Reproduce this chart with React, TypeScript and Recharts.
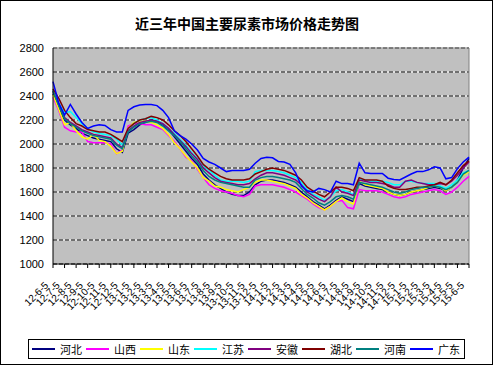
import React from "react";
import { LineChart, Line, XAxis, YAxis, CartesianGrid, ReferenceLine } from "recharts";

// tick labels, one per month (axis spans 12-6-5 .. 15-6-5)
const monthLabels = [
  "12-6-5", "12-7-5", "12-8-5", "12-9-5", "12-10-5", "12-11-5", "12-12-5",
  "13-1-5", "13-2-5", "13-3-5", "13-4-5", "13-5-5", "13-6-5", "13-7-5", "13-8-5", "13-9-5", "13-10-5", "13-11-5", "13-12-5",
  "14-1-5", "14-2-5", "14-3-5", "14-4-5", "14-5-5", "14-6-5", "14-7-5", "14-8-5", "14-9-5", "14-10-5", "14-11-5", "14-12-5",
  "15-1-5", "15-2-5", "15-3-5", "15-4-5", "15-5-5", "15-6-5",
];

const yTicks = [1000, 1200, 1400, 1600, 1800, 2000, 2200, 2400, 2600, 2800];

// prices (yuan/t), sampled every half month
const hebei = [2420, 2300, 2200, 2160, 2130, 2090, 2070, 2050, 2040, 2030, 2020, 1960, 1930, 2090, 2120, 2160, 2180, 2200, 2190, 2160, 2120, 2060, 2000, 1940, 1880, 1830, 1750, 1700, 1660, 1630, 1600, 1580, 1570, 1570, 1600, 1660, 1690, 1700, 1700, 1690, 1680, 1660, 1640, 1600, 1560, 1520, 1490, 1460, 1490, 1530, 1560, 1540, 1520, 1670, 1650, 1640, 1630, 1620, 1600, 1580, 1570, 1580, 1600, 1610, 1620, 1630, 1640, 1630, 1610, 1640, 1700, 1800, 1880];
const shanxi = [2390, 2280, 2140, 2110, 2100, 2100, 2020, 2010, 2010, 2010, 2000, 1920, 1950, 2150, 2170, 2170, 2160, 2160, 2140, 2120, 2070, 2020, 1960, 1890, 1860, 1790, 1720, 1660, 1630, 1610, 1600, 1590, 1570, 1560, 1580, 1650, 1660, 1660, 1660, 1650, 1640, 1620, 1600, 1570, 1540, 1500, 1470, 1450, 1480, 1520, 1530, 1470, 1460, 1620, 1610, 1610, 1610, 1600, 1580, 1560, 1550, 1560, 1580, 1590, 1600, 1610, 1620, 1610, 1580, 1600, 1640, 1690, 1730];
const shandong = [2410, 2290, 2160, 2180, 2110, 2060, 2040, 2080, 2030, 2020, 1980, 1920, 1940, 2130, 2180, 2190, 2190, 2180, 2160, 2130, 2080, 2010, 1960, 1900, 1850, 1800, 1720, 1690, 1650, 1640, 1620, 1610, 1600, 1620, 1640, 1680, 1700, 1700, 1690, 1680, 1670, 1650, 1630, 1580, 1550, 1510, 1480, 1450, 1480, 1520, 1550, 1520, 1500, 1690, 1660, 1650, 1640, 1630, 1600, 1580, 1570, 1580, 1600, 1610, 1620, 1640, 1650, 1640, 1610, 1640, 1690, 1740, 1770];
const jiangsu = [2450, 2340, 2260, 2270, 2220, 2170, 2130, 2100, 2090, 2080, 2070, 2040, 1990, 2120, 2170, 2200, 2210, 2220, 2200, 2170, 2130, 2090, 2040, 1990, 1930, 1880, 1820, 1780, 1740, 1700, 1690, 1690, 1690, 1680, 1690, 1770, 1780, 1780, 1780, 1770, 1760, 1740, 1720, 1680, 1620, 1580, 1560, 1530, 1560, 1610, 1620, 1600, 1580, 1710, 1700, 1690, 1690, 1690, 1680, 1660, 1660, 1690, 1690, 1680, 1670, 1670, 1670, 1650, 1630, 1660, 1700, 1760, 1780];
const anhui = [2440, 2330, 2220, 2180, 2150, 2120, 2100, 2080, 2070, 2060, 2050, 2000, 1970, 2110, 2150, 2180, 2190, 2200, 2190, 2170, 2130, 2080, 2030, 1980, 1920, 1870, 1800, 1760, 1720, 1690, 1680, 1670, 1660, 1660, 1670, 1710, 1740, 1760, 1760, 1750, 1740, 1720, 1700, 1660, 1600, 1570, 1540, 1520, 1560, 1640, 1600, 1590, 1570, 1700, 1690, 1680, 1680, 1670, 1660, 1640, 1640, 1690, 1700, 1680, 1670, 1660, 1660, 1670, 1660, 1690, 1740, 1800, 1850];
const hubei = [2460, 2380, 2280, 2220, 2170, 2150, 2120, 2110, 2100, 2100, 2080, 2050, 2020, 2130, 2170, 2200, 2210, 2230, 2220, 2200, 2160, 2110, 2070, 2020, 1960, 1900, 1830, 1790, 1760, 1730, 1710, 1700, 1700, 1700, 1710, 1750, 1770, 1790, 1800, 1790, 1780, 1760, 1740, 1700, 1640, 1610, 1580, 1560, 1600, 1640, 1640, 1630, 1610, 1720, 1700, 1700, 1700, 1690, 1650, 1630, 1620, 1620, 1630, 1640, 1640, 1650, 1660, 1680, 1660, 1700, 1760, 1820, 1860];
const henan = [2440, 2320, 2210, 2170, 2140, 2110, 2090, 2070, 2060, 2050, 2040, 1990, 1960, 2100, 2140, 2170, 2180, 2190, 2180, 2150, 2110, 2070, 2020, 1960, 1900, 1850, 1780, 1730, 1700, 1680, 1670, 1660, 1650, 1640, 1640, 1700, 1720, 1730, 1730, 1720, 1710, 1700, 1680, 1630, 1580, 1550, 1510, 1490, 1520, 1560, 1570, 1560, 1540, 1680, 1670, 1660, 1650, 1640, 1620, 1600, 1590, 1600, 1620, 1630, 1640, 1640, 1650, 1640, 1620, 1640, 1680, 1750, 1780];
const guangdong = [2520, 2340, 2240, 2330, 2250, 2180, 2130, 2150, 2160, 2155, 2120, 2100, 2100, 2280, 2310, 2325, 2330, 2330, 2320, 2280, 2220, 2110, 2070, 2040, 2000, 1950, 1880, 1850, 1830, 1800, 1770, 1780, 1780, 1780, 1790, 1840, 1880, 1890, 1885, 1855, 1850, 1830, 1760, 1650, 1610, 1600, 1630, 1620, 1600, 1690, 1670, 1670, 1660, 1840, 1760, 1755, 1755, 1755, 1715, 1705, 1700, 1725, 1750, 1770, 1770, 1785, 1810, 1800, 1710, 1720, 1795, 1850, 1890];

const series = [
  { name: "河北", values: hebei, color: "#000080" },
  { name: "山西", values: shanxi, color: "#FF00FF" },
  { name: "山东", values: shandong, color: "#FFFF00" },
  { name: "江苏", values: jiangsu, color: "#00FFFF" },
  { name: "安徽", values: anhui, color: "#800080" },
  { name: "湖北", values: hubei, color: "#800000" },
  { name: "河南", values: henan, color: "#008080" },
  { name: "广东", values: guangdong, color: "#0000FF" },
];

const data = hebei.map((_, i) => {
  const row: any = { m: i / 2 };
  series.forEach((s) => { row[s.name] = s.values[i]; });
  return row;
});

const font = '"Liberation Sans", "Noto Sans CJK SC", sans-serif';

function XTick({ x, y, payload }: any) {
  const ax = x - 4;
  const ay = y + 16;
  return (
    <text x={ax} y={ay} transform={`rotate(-45, ${ax}, ${ay})`} textAnchor="end"
      fontSize={10} fontFamily={font} fill="#000">
      {monthLabels[payload.value]}
    </text>
  );
}

export default function App() {
  return (
    <div style={{ position: "absolute", left: 0, top: 0, width: 494, height: 366, background: "#fff", fontFamily: font }}>
      <div style={{ position: "absolute", left: 0, top: 0, width: 493, height: 365, border: "1px solid #000", boxSizing: "border-box" }} />
      <div style={{ position: "absolute", left: 0, top: 14, width: 494, textAlign: "center", fontSize: 14, fontWeight: 700, fontFamily: '"Noto Sans CJK SC", sans-serif', lineHeight: "18px" }}>
        近三年中国主要尿素市场价格走势图
      </div>
      <div style={{ position: "absolute", left: 0, top: 0 }}>
        <LineChart width={494} height={366} data={data} margin={{ top: 48, right: 25, bottom: 42, left: 0 }}>
          <CartesianGrid horizontal vertical={false} fill="#C0C0C0" stroke="#fff" strokeDasharray="" />
          <CartesianGrid horizontal vertical={false} stroke="#000" strokeDasharray="4 2" />
          <XAxis dataKey="m" type="number" domain={[0, 36]} ticks={monthLabels.map((_, i) => i)}
            interval={0} height={60} tickSize={4} tick={<XTick />}
            axisLine={{ stroke: "#000" }} tickLine={{ stroke: "#000" }} />
          <YAxis domain={[1000, 2800]} ticks={yTicks} width={53} tickSize={0} tickMargin={9}
            axisLine={{ stroke: "#000" }} tickLine={false}
            tick={{ fontSize: 11, fill: "#000", fontFamily: font }} />
          <ReferenceLine y={2800} stroke="#808080" />
          <ReferenceLine x={36} stroke="#808080" />
          {series.map((s) => (
            <Line key={s.name} type="linear" dataKey={s.name} stroke={s.color} strokeWidth={1.5}
              dot={false} isAnimationActive={false} />
          ))}
        </LineChart>
      </div>
      <div style={{ position: "absolute", left: 28, top: 339, width: 437, height: 20, border: "1px solid #000", boxSizing: "border-box", background: "#fff" }}>
        {series.map((s, i) => (
          <div key={s.name} style={{ position: "absolute", left: 3 + i * 54, top: 0, height: 18, display: "flex", alignItems: "center" }}>
            <div style={{ width: 23, height: 1.5, background: s.color }} />
            <span style={{ marginLeft: 5, fontSize: 11, fontFamily: '"Noto Sans CJK SC", sans-serif', lineHeight: "18px" }}>{s.name}</span>
          </div>
        ))}
      </div>
    </div>
  );
}
